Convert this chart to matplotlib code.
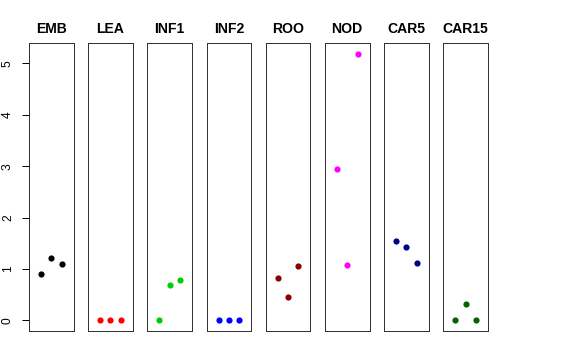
import matplotlib
matplotlib.use("Agg")
import matplotlib.pyplot as plt

plt.rcParams["font.family"] = ["Liberation Sans", "DejaVu Sans"]

# sample groups, one panel each
groups = ["EMB", "LEA", "INF1", "INF2", "ROO", "NOD", "CAR5", "CAR15"]
colors = ["black", "#FF0000", "#00CD00", "#0000FF", "#8B0000", "#FF00FF", "#000080", "#006400"]
replicate = [1, 2, 3]
values = [
    [0.91, 1.21, 1.09],
    [0.0, 0.0, 0.0],
    [0.0, 0.69, 0.79],
    [0.0, 0.0, 0.0],
    [0.82, 0.45, 1.06],
    [2.94, 1.08, 5.19],
    [1.54, 1.43, 1.12],
    [0.0, 0.32, 0.0],
]
yticks = [0, 1, 2, 3, 4, 5]

ymax = max(max(v) for v in values)
ylim = (-0.04 * ymax, ymax * 1.04)

fig = plt.figure(figsize=(8, 5), dpi=72)
left0, step, width = 0.0503, 0.10276, 0.0774
for i, (name, col, vals) in enumerate(zip(groups, colors, values)):
    ax = fig.add_axes([left0 + i * step, 0.0806, width, 0.80])
    ax.plot(replicate, vals, "o", color=col, markersize=6.2, markeredgewidth=0)
    ax.set_xlim(-0.16, 4.16)
    ax.set_ylim(*ylim)
    ax.set_xticks([])
    ax.set_title(name, fontsize=14, fontweight="bold", pad=10)
    for sp in ax.spines.values():
        sp.set_color("#333333")
        sp.set_linewidth(1)
    if i == 0:
        ax.set_yticks(yticks)
        ax.set_yticklabels([str(t) for t in yticks], rotation=90, va="center")
        ax.tick_params(axis="y", length=7, width=1, pad=8, labelsize=12)
    else:
        ax.set_yticks([])

fig.savefig("out.png", dpi=72)
